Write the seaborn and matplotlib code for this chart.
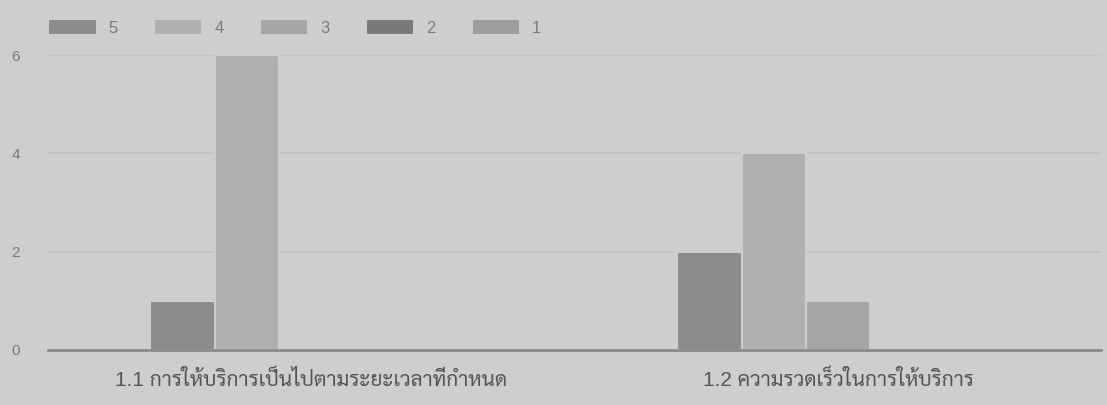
import matplotlib
matplotlib.use("Agg")
import matplotlib.pyplot as plt
import seaborn as sns
import pandas as pd
from matplotlib import font_manager

categories = ["1.1 การให้บริการเป็นไปตามระยะเวลาที่กำหนด",
              "1.2 ความรวดเร็วในการให้บริการ"]
ratings = ["5", "4", "3", "2", "1"]
values_5 = [1, 2]
values_4 = [6, 4]
values_3 = [0, 1]
values_2 = [0, 0]
values_1 = [0, 0]
colors = ["#8b8b8b", "#b0b0b0", "#a6a6a6", "#7a7a7a", "#9d9d9d"]
bg = "#cecece"

rows = []
for r, vals in zip(ratings, [values_5, values_4, values_3, values_2, values_1]):
    for c, v in zip(categories, vals):
        rows.append({"category": c, "rating": r, "count": v})
df = pd.DataFrame(rows)

sns.set_style("white")
# pick a Thai-capable family that is actually installed (looped style first)
installed = {f.name for f in font_manager.fontManager.ttflist}
thai = [n for n in ["Sarabun", "IBM Plex Sans Thai Looped", "Noto Sans Thai", "Niramit"]
        if n in installed]
plt.rcParams["font.family"] = ["Liberation Sans"] + thai[:1] + ["DejaVu Sans"]

fig, ax = plt.subplots(figsize=(11.07, 4.05), dpi=100)
fig.patch.set_facecolor(bg)
ax.set_facecolor(bg)
fig.subplots_adjust(left=0.043, right=0.995, bottom=0.136, top=0.864)

sns.barplot(data=df, x="category", y="count", hue="rating", hue_order=ratings,
            palette=colors, width=0.61, edgecolor=bg, linewidth=1.5, ax=ax,
            legend=True)

ax.set_ylim(0, 6)
ax.set_xlim(-0.5, 1.5)
ax.set_yticks([0, 2, 4, 6])
ax.yaxis.grid(True, color="#c3c3c3", linewidth=1.2)
ax.set_axisbelow(True)
for s in ["top", "right", "left"]:
    ax.spines[s].set_visible(False)
ax.spines["bottom"].set_color("#8a8a8a")
ax.spines["bottom"].set_linewidth(2)
ax.tick_params(axis="y", length=0, pad=20, labelsize=11, labelcolor="#7a7a7a")
ax.tick_params(axis="x", length=0, pad=14, labelsize=15, labelcolor="#555555")
ax.set_xlabel("")
ax.set_ylabel("")

handles, labels = ax.get_legend_handles_labels()
ax.get_legend().remove()
fig.legend(handles, labels, loc="upper left", bbox_to_anchor=(0.03, 0.99),
           ncol=5, frameon=False, fontsize=12, handlelength=2.9, handleheight=1.1,
           columnspacing=2.2, handletextpad=0.7, labelcolor="#7a7a7a")

fig.savefig("out.png", dpi=100, facecolor=bg)
